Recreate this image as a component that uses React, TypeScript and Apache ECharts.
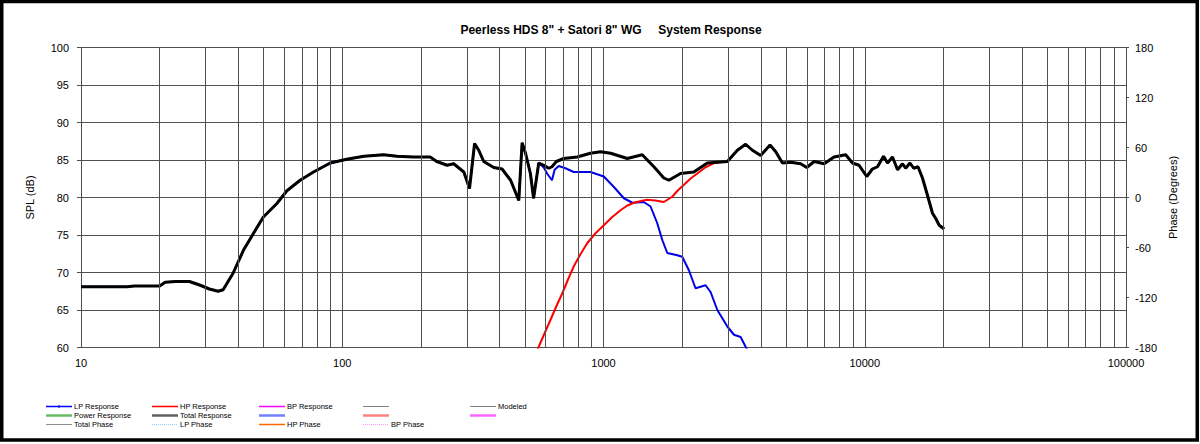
import React, { useEffect, useRef } from "react";
import * as echarts from "echarts";

// ---- data (frequency in Hz, SPL in dB) ----
const TOTAL_HZ = [10, 12, 15, 16, 20, 21, 23, 26, 28.6, 31, 33.5, 35, 38.2, 41.9, 45.7, 49.9, 56.2, 61.4, 69, 77.6, 90, 104, 121, 144, 162, 187, 217, 230, 252, 267, 292, 307, 321, 333, 348, 380, 409, 441, 474, 488, 503, 525, 540, 565, 591, 617, 635, 660, 704, 793, 891, 975, 1065, 1233, 1407, 1559, 1702, 1779, 1972, 2218, 2496, 2727, 2979, 3254, 3499, 3715, 3998, 4339, 4563, 4842, 5205, 5684, 5999, 6400, 6992, 7627, 8453, 8975, 9508, 10180, 10700, 11190, 11800, 12220, 12770, 13350, 13950, 14340, 14900, 15400, 15990, 16630, 17380, 18170, 18700, 19270, 20140];
const TOTAL_DB = [68.1, 68.1, 68.1, 68.2, 68.2, 68.7, 68.8, 68.8, 68.3, 67.8, 67.5, 67.7, 69.9, 73.0, 75.2, 77.4, 79.2, 80.9, 82.3, 83.4, 84.6, 85.1, 85.5, 85.7, 85.5, 85.4, 85.4, 84.8, 84.3, 84.5, 83.4, 81.2, 87.2, 86.3, 84.8, 84.0, 83.8, 82.3, 79.6, 87.3, 85.9, 83.2, 79.9, 84.6, 84.3, 83.9, 84.1, 84.8, 85.2, 85.4, 85.9, 86.1, 85.9, 85.2, 85.7, 84.1, 82.6, 82.3, 83.2, 83.4, 84.6, 84.7, 84.8, 86.3, 87.1, 86.3, 85.6, 87.0, 86.1, 84.6, 84.7, 84.5, 84.0, 84.8, 84.5, 85.4, 85.7, 84.6, 84.3, 82.8, 83.8, 84.1, 85.5, 84.6, 85.4, 83.7, 84.5, 83.9, 84.6, 83.9, 84.1, 82.6, 80.3, 77.9, 77.2, 76.3, 75.8];

// LP response: follows total below 540 Hz, then this tail
const LP_TAIL_HZ = [565, 591, 608, 635, 650, 674, 715, 769, 891, 1003, 1096, 1197, 1289, 1426, 1514, 1605, 1680, 1755, 1916, 2002, 2123, 2250, 2459, 2570, 2727, 2979, 3158, 3349, 3499, 3700];
const LP_TAIL_DB = [84.6, 84.0, 83.2, 82.3, 83.7, 84.2, 83.9, 83.4, 83.4, 82.8, 81.4, 79.9, 79.3, 79.4, 78.8, 76.6, 74.3, 72.6, 72.3, 72.1, 70.3, 67.9, 68.3, 67.4, 65.0, 62.8, 61.7, 61.4, 60.1, 58.5];

// HP response: rising part, then follows total from 2979 Hz
const HP_HEAD_HZ = [540, 565, 595, 627, 660, 695, 730, 769, 815, 866, 930, 1003, 1080, 1162, 1230, 1307, 1380, 1468, 1580, 1702, 1832, 1920, 2032, 2150, 2286, 2450, 2649];
const HP_HEAD_DB = [58.5, 60.1, 61.9, 63.7, 65.5, 67.2, 69.0, 70.8, 72.4, 73.9, 75.2, 76.3, 77.4, 78.3, 78.9, 79.3, 79.5, 79.7, 79.6, 79.4, 80.1, 80.9, 81.7, 82.5, 83.2, 84.0, 84.6];

const SPL_MIN = 60;
const SPL_MAX = 100;
const SPL_STEP = 5;
const PHASE_MIN = -180;
const PHASE_MAX = 180;
const PHASE_STEP = 60;
const F_MIN = 10;
const F_MAX = 100000;
const DECADES = [10, 100, 1000, 10000];
const MULTS = [2, 3, 4, 5, 6, 7, 8, 9];

const TITLE = "Peerless HDS 8\" + Satori 8\" WG\u00a0\u00a0\u00a0\u00a0\u00a0System Response";

// legend rows (label, color, width, style)
const LEGEND_ROWS = [
  [["LP Response", "#0000ff", 1.5, "solid"], ["HP Response", "#ff0000", 1.5, "solid"], ["BP Response", "#ff00ff", 1.5, "solid"], ["", "#808080", 1, "solid"], ["Modeled", "#808080", 1, "solid"]],
  [["Power Response", "#66bb66", 2.5, "solid"], ["Total Response", "#606060", 2.5, "solid"], ["", "#7080ff", 2.5, "solid"], ["", "#ff8080", 2.5, "solid"], ["", "#ff66ff", 2.5, "solid"]],
  [["Total Phase", "#909090", 1, "solid"], ["LP Phase", "#99ccff", 1, "dotted"], ["HP Phase", "#ff6600", 1.5, "solid"], ["BP Phase", "#ff99ff", 1, "dotted"]],
];

const zip = (xs: number[], ys: number[]) => xs.map((x, i) => [x, ys[i]]);

export default function App() {
  const ref = useRef<HTMLDivElement>(null);
  useEffect(() => {
    if (!ref.current) return;
    const chart = echarts.init(ref.current, null, { renderer: "svg" });

    const total = zip(TOTAL_HZ, TOTAL_DB);
    const lp = total.filter((p) => p[0] <= 540).concat(zip(LP_TAIL_HZ, LP_TAIL_DB));
    const hp = zip(HP_HEAD_HZ, HP_HEAD_DB).concat(total.filter((p) => p[0] >= 2979));
    const gridHz = DECADES.flatMap((d) => MULTS.map((m) => d * m));

    const font = "'Liberation Sans', Arial, sans-serif";
    const colX = [46, 152, 259, 363, 470];
    const rowY = [406.5, 415.5, 424.5];
    const legendGraphics: any[] = [];
    LEGEND_ROWS.forEach((row, r) => {
      row.forEach((item: any, c) => {
        const [label, color, w, type] = item;
        legendGraphics.push({
          type: "line",
          shape: { x1: colX[c], y1: rowY[r], x2: colX[c] + 26, y2: rowY[r] },
          style: { stroke: color, lineWidth: w, lineDash: type === "dotted" ? [1, 1] : null },
          silent: true,
        });
        if (label) {
          legendGraphics.push({
            type: "text",
            x: colX[c] + 28,
            y: rowY[r],
            style: { text: label, fill: "#000", font: `7.5px ${font}`, textVerticalAlign: "middle" },
            silent: true,
          });
        }
      });
    });
    legendGraphics.push({
      type: "rect",
      shape: { x: colX[0] + 12, y: rowY[0] - 1, width: 2, height: 2 },
      style: { fill: "#0000ff" },
      silent: true,
    });

    chart.setOption({
      animation: false,
      backgroundColor: "#fff",
      textStyle: { fontFamily: font },
      grid: { left: 81, right: 74, top: 47.5, height: 300, containLabel: false },
      xAxis: {
        type: "log",
        logBase: 10,
        min: F_MIN,
        max: F_MAX,
        axisLine: { show: true, lineStyle: { color: "#505050", width: 1 } },
        axisTick: { show: true, length: 3, lineStyle: { color: "#505050" } },
        axisLabel: { color: "#000", fontSize: 11, margin: 10, formatter: (v: number) => String(Math.round(v)) },
        splitLine: { show: true, lineStyle: { color: "#505050", width: 1 } },
        minorTick: { show: false },
      },
      yAxis: [
        {
          type: "value",
          min: SPL_MIN,
          max: SPL_MAX,
          interval: SPL_STEP,
          position: "left",
          name: "SPL (dB)",
          nameLocation: "middle",
          nameRotate: 90,
          nameGap: 46,
          nameTextStyle: { color: "#000", fontSize: 11 },
          axisLine: { show: true, lineStyle: { color: "#505050", width: 1 } },
          axisTick: { show: true, length: 4, lineStyle: { color: "#505050" } },
          axisLabel: { color: "#000", fontSize: 11, margin: 12 },
          splitLine: { show: true, lineStyle: { color: "#505050", width: 1 } },
        },
        {
          type: "value",
          min: PHASE_MIN,
          max: PHASE_MAX,
          interval: PHASE_STEP,
          position: "right",
          name: "Phase (Degrees)",
          nameLocation: "middle",
          nameRotate: 90,
          nameGap: 40,
          nameTextStyle: { color: "#000", fontSize: 11 },
          axisLine: { show: true, lineStyle: { color: "#505050", width: 1 } },
          axisTick: { show: true, length: 3, lineStyle: { color: "#505050" } },
          axisLabel: { color: "#000", fontSize: 11, margin: 9 },
          splitLine: { show: false },
        },
      ],
      title: {
        text: TITLE,
        left: 606,
        top: 19,
        textAlign: "center",
        textStyle: { fontSize: 12, fontWeight: "bold", color: "#000", fontFamily: font },
      },
      graphic: [
        {
          type: "rect",
          shape: { x: 1.75, y: 1.5, width: 1195.5, height: 438.5 },
          style: { fill: "none", stroke: "#000", lineWidth: 3.5 },
          silent: true,
          z: 100,
        },
        ...legendGraphics,
      ],
      series: [
        {
          name: "grid",
          type: "line",
          data: [[F_MIN, 0]],
          showSymbol: false,
          silent: true,
          z: 1,
          markLine: {
            silent: true,
            symbol: ["none", "none"],
            label: { show: false },
            lineStyle: { color: "#505050", width: 1, type: "solid" },
            data: gridHz.map((f) => ({ xAxis: f })),
          },
        },
        {
          name: "LP Response",
          type: "line",
          data: lp,
          showSymbol: false,
          clip: true,
          z: 2,
          lineStyle: { color: "#0000e6", width: 2 },
        },
        {
          name: "HP Response",
          type: "line",
          data: hp,
          showSymbol: false,
          clip: true,
          z: 3,
          lineStyle: { color: "#ff0000", width: 2 },
        },
        {
          name: "Total Response",
          type: "line",
          data: total,
          showSymbol: false,
          clip: true,
          z: 4,
          lineStyle: { color: "#000", width: 3 },
        },
      ],
    });
    return () => chart.dispose();
  }, []);
  return <div ref={ref} style={{ position: "fixed", left: 0, top: 0, width: 1200, height: 444 }} />;
}
